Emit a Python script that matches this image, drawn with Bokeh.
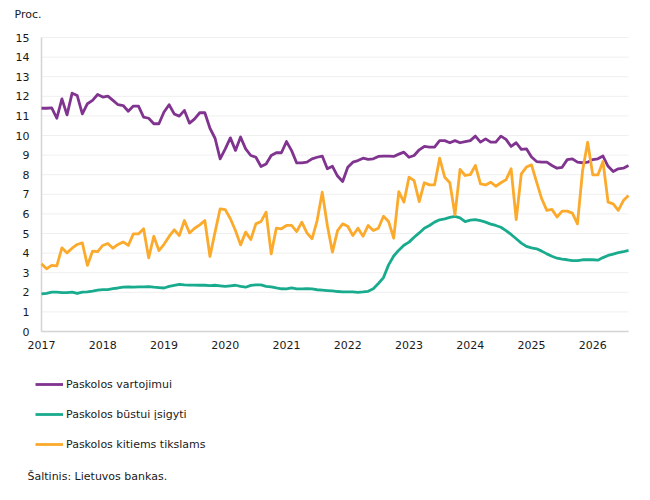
from bokeh.plotting import figure
from bokeh.models import Range1d, Legend, LegendItem, Label
from bokeh.core.properties import value
from bokeh.embed import file_html
from bokeh.resources import INLINE

years = ["2017", "2018", "2019", "2020", "2021", "2022", "2023", "2024", "2025", "2026"]

series_names = ["Paskolos vartojimui", "Paskolos būstui įsigyti", "Paskolos kitiems tikslams"]

vartojimui = [
    11.39, 11.39, 11.41, 10.88, 11.87, 11.05, 12.16, 12.04, 11.10, 11.62, 11.79, 12.09,
    11.96, 12.01, 11.79, 11.57, 11.53, 11.24, 11.50, 11.50, 10.94, 10.88, 10.60, 10.60,
    11.20, 11.57, 11.10, 10.99, 11.28, 10.63, 10.85, 11.16, 11.16, 10.37, 9.86, 8.81,
    9.32, 9.88, 9.24, 9.92, 9.32, 8.98, 8.89, 8.42, 8.55, 8.98, 9.12, 9.12,
    9.69, 9.23, 8.60, 8.60, 8.64, 8.81, 8.89, 8.95, 8.30, 8.43, 7.93, 7.65,
    8.38, 8.64, 8.72, 8.84, 8.78, 8.81, 8.93, 8.95, 8.95, 8.93, 9.05, 9.15,
    8.89, 8.98, 9.27, 9.44, 9.41, 9.41, 9.74, 9.74, 9.63, 9.74, 9.63, 9.69,
    9.74, 9.97, 9.66, 9.83, 9.66, 9.66, 9.97, 9.80, 9.44, 9.63, 9.29, 9.32,
    8.90, 8.67, 8.64, 8.64, 8.47, 8.33, 8.38, 8.77, 8.81, 8.64, 8.61, 8.64,
    8.77, 8.81, 8.95, 8.43, 8.16, 8.30, 8.33, 8.47,
]

bustui = [
    1.92, 1.95, 2.01, 2.01, 1.98, 1.98, 2.01, 1.94, 2.01, 2.02, 2.06, 2.11,
    2.14, 2.14, 2.19, 2.22, 2.26, 2.28, 2.26, 2.28, 2.28, 2.29, 2.26, 2.24,
    2.22, 2.30, 2.35, 2.40, 2.38, 2.37, 2.37, 2.36, 2.36, 2.34, 2.36, 2.33,
    2.30, 2.33, 2.36, 2.30, 2.26, 2.35, 2.38, 2.38, 2.30, 2.28, 2.22, 2.18,
    2.17, 2.22, 2.17, 2.17, 2.19, 2.17, 2.13, 2.11, 2.09, 2.07, 2.04, 2.02,
    2.02, 2.02, 2.00, 2.02, 2.05, 2.18, 2.45, 2.75, 3.40, 3.85, 4.15, 4.40,
    4.56, 4.81, 5.03, 5.27, 5.41, 5.58, 5.70, 5.75, 5.82, 5.87, 5.80, 5.61,
    5.68, 5.71, 5.66, 5.58, 5.48, 5.41, 5.32, 5.15, 4.95, 4.73, 4.51, 4.34,
    4.27, 4.22, 4.10, 3.96, 3.84, 3.74, 3.69, 3.66, 3.62, 3.62, 3.66, 3.67,
    3.66, 3.64, 3.77, 3.88, 3.95, 4.02, 4.07, 4.14,
]

kitiems = [
    3.45, 3.20, 3.37, 3.35, 4.27, 4.01, 4.25, 4.44, 4.52, 3.37, 4.10, 4.08,
    4.39, 4.49, 4.25, 4.44, 4.57, 4.39, 4.98, 4.98, 5.24, 3.76, 4.86, 4.13,
    4.45, 4.85, 5.19, 4.90, 5.66, 5.03, 5.27, 5.44, 5.66, 3.83, 5.07, 6.26,
    6.22, 5.75, 5.15, 4.42, 5.07, 4.69, 5.49, 5.61, 6.09, 3.96, 5.27, 5.24,
    5.41, 5.41, 5.10, 5.58, 5.03, 4.73, 5.66, 7.11, 5.41, 4.05, 5.15, 5.49,
    5.37, 4.90, 5.27, 4.86, 5.41, 5.15, 5.27, 5.88, 5.61, 4.76, 7.14, 6.60,
    7.87, 7.70, 6.63, 7.59, 7.48, 7.48, 8.84, 7.87, 7.59, 5.95, 8.27, 7.96,
    8.00, 8.47, 7.53, 7.48, 7.62, 7.41, 7.59, 7.74, 8.30, 5.71, 8.04, 8.39,
    8.50, 7.62, 6.77, 6.18, 6.23, 5.84, 6.14, 6.14, 6.04, 5.49, 8.20, 9.66,
    7.99, 7.99, 8.67, 6.60, 6.51, 6.18, 6.68, 6.94,
]

y_ticks = list(range(0, 16))
y_tick_labels = [str(t) for t in y_ticks]
colors = ["#80338F", "#19AB8D", "#FBAA2B"]
source_text = "Šaltinis: Lietuvos bankas."
unit_text = "Proc."

FONT = "DejaVu Sans"
TXT = "#1a1a1a"
FS = "11px"

n = len(vartojimui)
x = list(range(n))
x_ticks = [12 * k for k in range(len(years))]

# canvas geometry (pixels)
W, H = 640, 495
PL, PR, PT, PB = 41, 628, 37, 331      # plot area edges on the canvas
YMAX = 15
px_x = (PR - PL) / (n - 1)
px_y = (PB - PT) / YMAX

p = figure(width=W, height=H, output_backend="svg", toolbar_location=None,
           x_range=Range1d(-PL / px_x, (W - PL) / px_x),
           y_range=Range1d((PB - H) / px_y, PB / px_y),
           x_axis_type=None, y_axis_type=None,
           min_border_left=0, min_border_right=0, min_border_top=0, min_border_bottom=0)
p.outline_line_color = None
p.xgrid.grid_line_color = None
p.ygrid.grid_line_color = None
p.background_fill_color = "white"
p.border_fill_color = "white"

# grid lines
p.segment(x0=[0] * len(y_ticks), y0=y_ticks, x1=[n - 1] * len(y_ticks), y1=y_ticks,
          line_color="#efefef", line_width=1)
# axis lines
p.segment(x0=[0, 0], y0=[0, 0], x1=[0, n - 1], y1=[YMAX, 0],
          line_color="#d4d4d4", line_width=1.5)

# tick labels
p.text(x=[0] * len(y_ticks), y=y_ticks, text=y_tick_labels, x_offset=-12,
       text_align="right", text_baseline="middle",
       text_font=value(FONT), text_font_size=FS, text_color=TXT)
p.text(x=x_ticks, y=[0] * len(x_ticks), text=years, y_offset=9,
       text_align="center", text_baseline="top",
       text_font=value(FONT), text_font_size=FS, text_color=TXT)

renderers = []
for ys, c in zip([vartojimui, bustui, kitiems], colors):
    r = p.line(x, ys, line_color=c, line_width=2.8, line_join="round")
    renderers.append(r)

legend = Legend(items=[LegendItem(label=nm, renderers=[r]) for nm, r in zip(series_names, renderers)],
                location=(35, 41), orientation="vertical",
                glyph_width=28, glyph_height=20, label_height=20, spacing=10,
                label_standoff=3, padding=0, margin=0,
                border_line_color=None, background_fill_alpha=0,
                label_text_font=FONT, label_text_font_size=FS, label_text_color=TXT)
p.add_layout(legend)

p.add_layout(Label(x=14, y=H - 14, x_units="screen", y_units="screen", text=unit_text,
                   text_font=FONT, text_font_size=FS, text_color=TXT,
                   text_baseline="middle", text_align="left"))
p.add_layout(Label(x=27, y=H - 476, x_units="screen", y_units="screen", text=source_text,
                   text_font=FONT, text_font_size=FS, text_color=TXT,
                   text_baseline="middle", text_align="left"))

open("out.html", "w").write(file_html(p, INLINE))
